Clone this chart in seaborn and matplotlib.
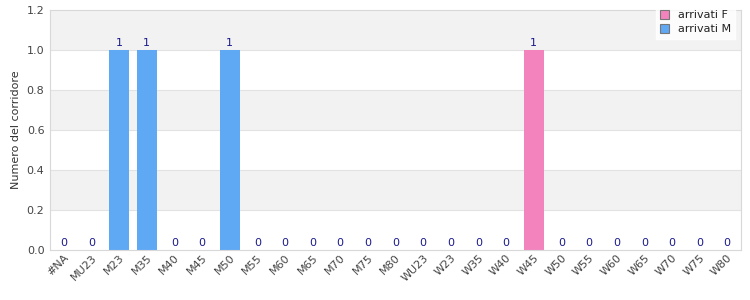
import matplotlib
matplotlib.use("Agg")
import matplotlib.pyplot as plt
import seaborn as sns
import pandas as pd
from matplotlib.patches import Patch

categories = ["#NA", "MU23", "M23", "M35", "M40", "M45", "M50", "M55", "M60", "M65",
              "M70", "M75", "M80", "WU23", "W23", "W35", "W40", "W45", "W50", "W55",
              "W60", "W65", "W70", "W75", "W80"]
arrivati_M = [0, 0, 1, 1, 0, 0, 1, 0, 0, 0, 0, 0, 0, 0, 0, 0, 0, 0, 0, 0, 0, 0, 0, 0, 0]
arrivati_F = [0, 0, 0, 0, 0, 0, 0, 0, 0, 0, 0, 0, 0, 0, 0, 0, 0, 1, 0, 0, 0, 0, 0, 0, 0]

col_M = "#5fa8f4"
col_F = "#f283bd"

sns.set_theme(style="white")
plt.rcParams['font.family'] = ['DejaVu Sans']

fig = plt.figure(figsize=(7.5, 3), dpi=100)
ax = fig.add_axes([50/750, 1-250/300, 691/750, 240/300])

df = pd.DataFrame({"cat": categories * 2,
                   "val": arrivati_F + arrivati_M,
                   "serie": ["arrivati F"] * len(categories) + ["arrivati M"] * len(categories)})

# background bands
for i, (lo, hi) in enumerate([(0, 0.2), (0.2, 0.4), (0.4, 0.6), (0.6, 0.8), (0.8, 1.0), (1.0, 1.2)]):
    if i % 2 == 1:
        ax.axhspan(lo, hi, color="#f2f2f2", zorder=0, lw=0)
for y in [0.2, 0.4, 0.6, 0.8, 1.0]:
    ax.axhline(y, color="#e2e2e2", lw=0.8, zorder=0.5)

sns.barplot(data=df, x="cat", y="val", hue="serie", dodge=False,
            palette={"arrivati F": col_F, "arrivati M": col_M},
            width=0.72, ax=ax, legend=False, zorder=2, saturation=1,
            linewidth=0, edgecolor="none")

totals = [m + f for m, f in zip(arrivati_M, arrivati_F)]
for i, t in enumerate(totals):
    ax.text(i, t + 0.012, f"{t}", ha="center", va="bottom", fontsize=8, color="#1a1a8c")

ax.set_xlim(-0.5, len(categories) - 0.5)
ax.set_ylim(0, 1.2)
ax.set_yticks([0, 0.2, 0.4, 0.6, 0.8, 1.0, 1.2])
ax.set_yticklabels(["0.0", "0.2", "0.4", "0.6", "0.8", "1.0", "1.2"])
ax.set_xlabel("")
ax.set_ylabel("Numero del corridore", fontsize=8, color="#333333")
ax.tick_params(axis="y", labelsize=8, colors="#444444", length=0, pad=4)
ax.tick_params(axis="x", labelsize=8, colors="#444444", length=0, pad=2)
for lab in ax.get_xticklabels():
    lab.set_rotation(45)
    lab.set_ha("right")
    lab.set_rotation_mode("anchor")

for s in ax.spines.values():
    s.set_color("#d8d8d8")
    s.set_linewidth(0.8)

handles = [Patch(facecolor=col_F, edgecolor="#777777", lw=0.8, label="arrivati F"),
           Patch(facecolor=col_M, edgecolor="#777777", lw=0.8, label="arrivati M")]
leg = fig.legend(handles=handles, loc="upper right", bbox_to_anchor=(741/750, 1.0),
                 fontsize=8, frameon=True, handlelength=0.8, handleheight=0.8,
                 handletextpad=0.8, borderpad=0.4, labelspacing=0.35, fancybox=False)
leg.get_frame().set_edgecolor("white")
leg.get_frame().set_facecolor("white")
for t in leg.get_texts():
    t.set_color("#222222")

fig.savefig("out.png", dpi=100)
